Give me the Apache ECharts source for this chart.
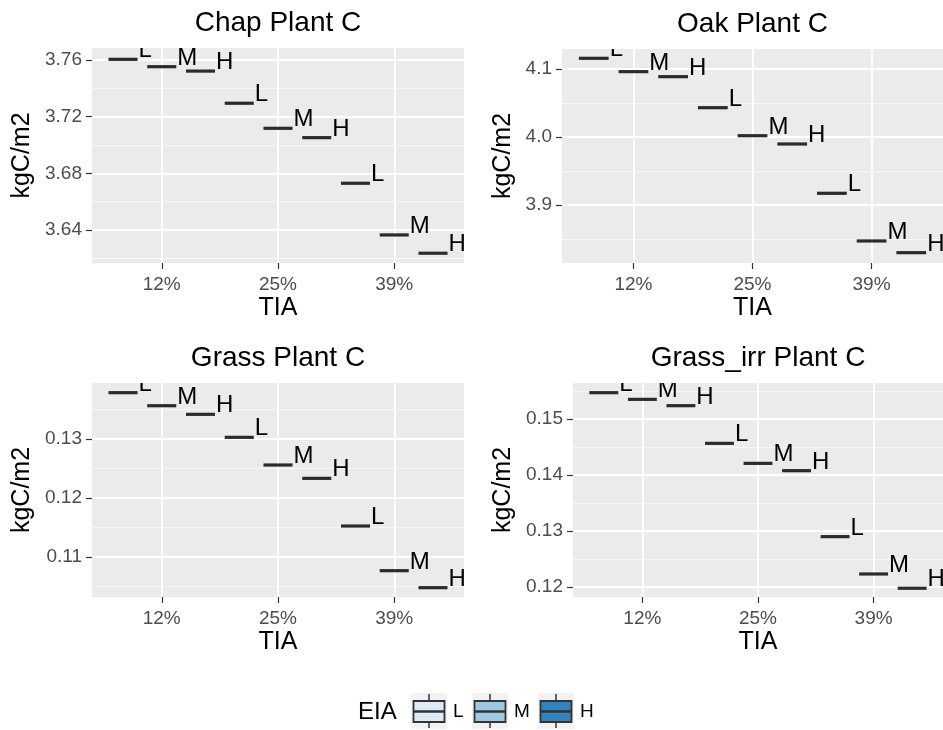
<!DOCTYPE html>
<html><head><meta charset="utf-8">
<script src="https://cdn.jsdelivr.net/npm/echarts@6/dist/echarts.min.js"></script>
<style>html,body{margin:0;padding:0;background:#fff}#c{width:943px;height:730px}</style>
</head><body><div id="c"></div>
<script>
// ---------- data ----------
const tiaLabels = ['12%', '25%', '39%'];
const eiaLevels = ['L', 'M', 'H'];
const eiaColors = ['#deebf7', '#9ecae1', '#3182bd'];
const panelTitles = ['Chap Plant C', 'Oak Plant C', 'Grass Plant C', 'Grass_irr Plant C'];

// values ordered TIA 12%,25%,39% ; within each EIA L,M,H
const chapPlantC     = [3.7605, 3.7553, 3.7522, 3.7295, 3.7118, 3.7052, 3.6730, 3.6365, 3.6236];
const oakPlantC      = [4.1157, 4.0961, 4.0887, 4.0431, 4.0019, 3.9897, 3.9172, 3.8471, 3.8299];
const grassPlantC    = [0.13785, 0.13564, 0.13418, 0.13028, 0.12559, 0.12333, 0.11525, 0.10768, 0.10480];
const grassIrrPlantC = [0.15470, 0.15351, 0.15238, 0.14565, 0.14208, 0.14077, 0.12899, 0.12232, 0.11977];

const chapTicks = [3.64, 3.68, 3.72, 3.76];
const oakTicks = [3.9, 4.0, 4.1];
const grassTicks = [0.11, 0.12, 0.13];
const grassIrrTicks = [0.12, 0.13, 0.14, 0.15];

const chapMinor = [3.62, 3.66, 3.70, 3.74];
const oakMinor = [3.85, 3.95, 4.05];
const grassMinor = [0.105, 0.115, 0.125, 0.135];
const grassIrrMinor = [0.125, 0.135, 0.145, 0.155];

const chapRange = [3.6167, 3.7685];
const oakRange = [3.8147, 4.1294];
const grassRange = [0.10322, 0.13949];
const grassIrrRange = [0.11821, 0.15643];

const tickDecimals = [2, 1, 2, 2];

// ---------- layout ----------
const FONT = "'Liberation Sans', Arial, Helvetica, sans-serif";
const panelValues = [chapPlantC, oakPlantC, grassPlantC, grassIrrPlantC];
const panelTicks = [chapTicks, oakTicks, grassTicks, grassIrrTicks];
const panelMinor = [chapMinor, oakMinor, grassMinor, grassIrrMinor];
const panelRanges = [chapRange, oakRange, grassRange, grassIrrRange];
const grids = [
  {left: 92, top: 48, width: 372, height: 215},
  {left: 562, top: 49, width: 381, height: 214},
  {left: 92, top: 383, width: 372, height: 214},
  {left: 573, top: 383, width: 370, height: 214}
];
const yNameGaps = [57, 46, 57, 57];
const dodge = [-1/3, 0, 1/3];
const halfBox = 0.125;

const option = {
  animation: false,
  backgroundColor: '#fff',
  grid: grids.map(g => Object.assign({show: true, backgroundColor: '#ebebeb', borderWidth: 0, containLabel: false}, g)),
  xAxis: grids.map((g, i) => ({
    type: 'value', gridIndex: i, min: 0.4, max: 3.6,
    name: 'TIA', nameLocation: 'middle', nameGap: 33,
    nameTextStyle: {fontFamily: FONT, fontSize: 25, color: '#000'},
    axisLine: {show: false},
    axisTick: {show: true, length: 6, lineStyle: {color: '#333', width: 1.2}, customValues: [1, 2, 3]},
    axisLabel: {customValues: [1, 2, 3], margin: 12, fontFamily: FONT, fontSize: 19, color: '#4d4d4d',
      formatter: v => tiaLabels[Math.round(v) - 1]},
    splitLine: {show: true, lineStyle: {color: '#fff', width: 2}}
  })),
  yAxis: [],
  series: [],
  graphic: []
};

grids.forEach((g, i) => {
  const dec = tickDecimals[i];
  option.yAxis.push({
    type: 'value', gridIndex: i, min: panelRanges[i][0], max: panelRanges[i][1],
    name: 'kgC/m2', nameLocation: 'middle', nameGap: yNameGaps[i],
    nameTextStyle: {fontFamily: FONT, fontSize: 25, color: '#000'},
    axisLine: {show: false},
    axisTick: {show: true, length: 6, lineStyle: {color: '#333', width: 1.2}, customValues: panelTicks[i]},
    axisLabel: {customValues: panelTicks[i], margin: 10, fontFamily: FONT, fontSize: 19, color: '#4d4d4d',
      formatter: v => Number(v).toFixed(dec)},
    splitLine: {show: true, lineStyle: {color: '#fff', width: 2}}
  });
  option.yAxis.push({
    type: 'value', gridIndex: i, min: panelRanges[i][0], max: panelRanges[i][1],
    position: 'left',
    axisLine: {show: false},
    axisTick: {show: false, customValues: panelMinor[i]},
    axisLabel: {show: false, customValues: panelMinor[i]},
    splitLine: {show: true, lineStyle: {color: '#f7f7f7', width: 1}}
  });
  const data = panelValues[i].map((v, j) => {
    const t = Math.floor(j / 3), e = j % 3;
    return [t + 1 + dodge[e], v, e];
  });
  option.series.push({
    type: 'custom', xAxisIndex: i, yAxisIndex: 2 * i, clip: true, z: 5,
    encode: {x: 0, y: 1},
    data: data,
    renderItem: function (params, api) {
      const cx = api.value(0), v = api.value(1), e = api.value(2);
      const p0 = api.coord([cx - halfBox, v]);
      const p1 = api.coord([cx + halfBox, v]);
      return {
        type: 'group',
        children: [
          {type: 'line', shape: {x1: p0[0], y1: p0[1], x2: p1[0], y2: p1[1]},
            style: {stroke: '#2b2b2b', lineWidth: 3.2}},
          {type: 'text', x: p1[0] + 1, y: p1[1] - 8.5,
            style: {text: eiaLevels[e], fill: '#000', fontSize: 24, fontFamily: FONT,
              align: 'left', verticalAlign: 'middle'}}
        ]
      };
    }
  });
  option.graphic.push({
    type: 'text', x: g.left + g.width / 2, y: g.top - 25,
    style: {text: panelTitles[i], fill: '#000', fontSize: 28, fontFamily: FONT,
      align: 'center', verticalAlign: 'middle'}
  });
});

// legend (EIA)
const legY = 693, keySize = 36;
const keyX = [411, 472, 538];
option.graphic.push({type: 'text', x: 358, y: 712,
  style: {text: 'EIA', fill: '#000', fontSize: 24, fontFamily: FONT, align: 'left', verticalAlign: 'middle'}});
eiaLevels.forEach((lv, i) => {
  const x = keyX[i], cx = x + keySize / 2;
  option.graphic.push(
    {type: 'rect', shape: {x: x, y: legY, width: keySize, height: keySize}, style: {fill: '#f2f2f2'}},
    {type: 'line', shape: {x1: cx, y1: legY + 1, x2: cx, y2: legY + keySize - 1}, style: {stroke: '#333', lineWidth: 1.5}},
    {type: 'rect', shape: {x: x + 2.5, y: legY + 8, width: 31, height: 21}, style: {fill: eiaColors[i], stroke: '#333', lineWidth: 1.8}},
    {type: 'line', shape: {x1: x + 2.5, y1: legY + 18.5, x2: x + 33.5, y2: legY + 18.5}, style: {stroke: '#333', lineWidth: 2.5}},
    {type: 'text', x: x + keySize + 6, y: legY + 19,
      style: {text: lv, fill: '#000', fontSize: 19, fontFamily: FONT, align: 'left', verticalAlign: 'middle'}}
  );
});

const chart = echarts.init(document.getElementById('c'), null, {renderer: 'canvas'});
chart.setOption(option);
</script></body></html>
